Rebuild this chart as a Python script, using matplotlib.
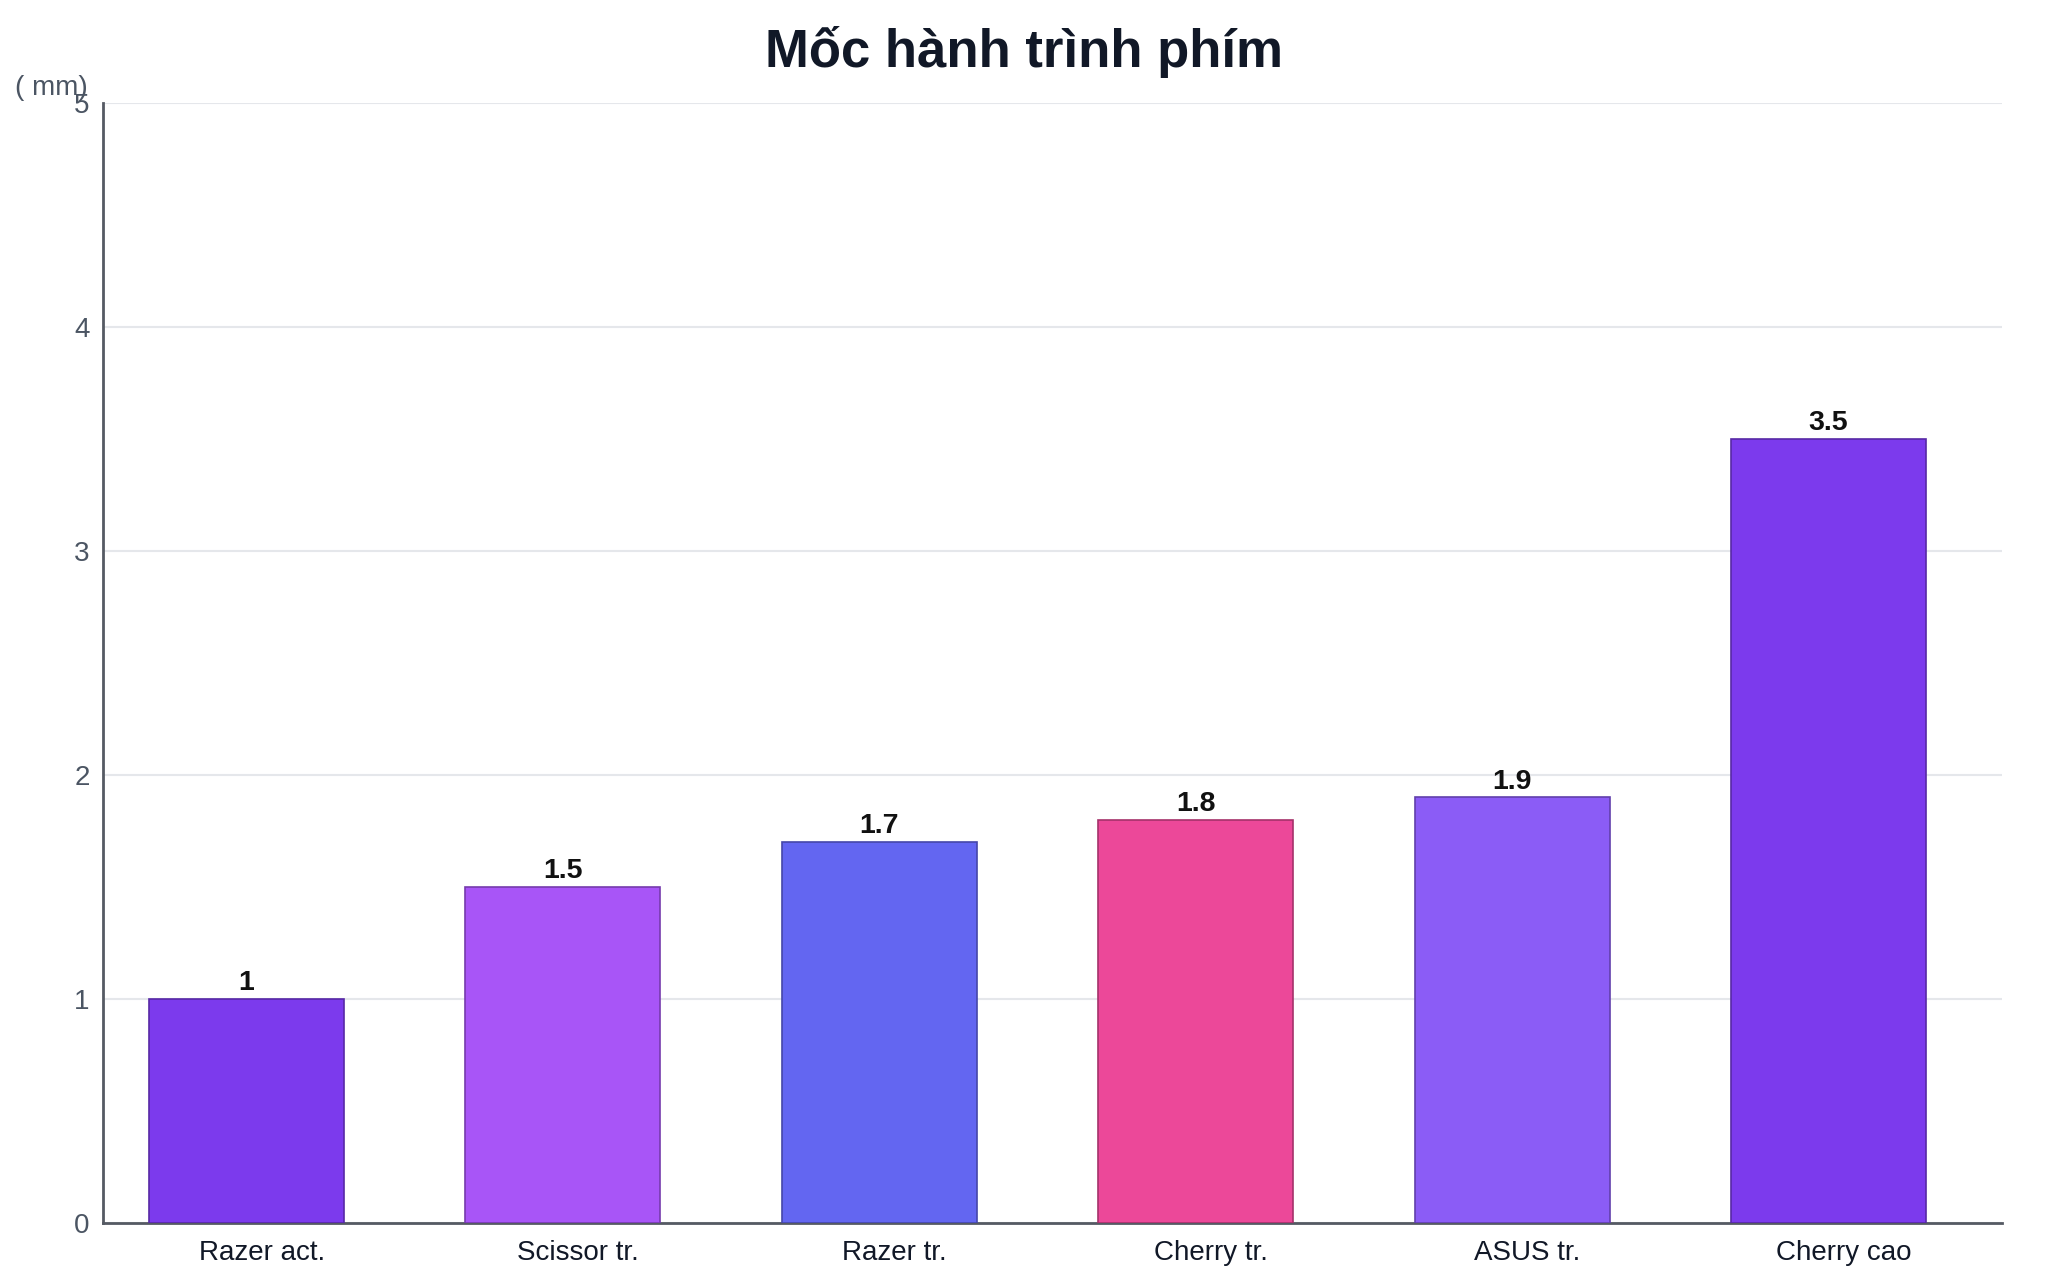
import matplotlib
matplotlib.use("Agg")
import matplotlib.pyplot as plt
import matplotlib.colors as mcolors
import numpy as np

plt.rcParams['font.family'] = ['Liberation Sans', 'DejaVu Sans']

categories = ["Razer act.", "Scissor tr.", "Razer tr.", "Cherry tr.", "ASUS tr.", "Cherry cao"]
values = [1, 1.5, 1.7, 1.8, 1.9, 3.5]
colors = ["#7c3aed", "#a855f7", "#6366f1", "#ec4899", "#8b5cf6", "#7c3aed"]
title = "Mốc hành trình phím"
y_unit = "( mm)"
y_ticks = [0, 1, 2, 3, 4, 5]

def darker(c, f=0.7):
    r, g, b = mcolors.to_rgb(c)
    return (r * f, g * f, b * f)

fig = plt.figure(figsize=(20.48, 12.8), dpi=100)
ax = fig.add_axes([0.0505, 0.0445, 0.927, 0.875])

x = np.arange(len(categories))
bar_x = x - 0.048
bars = ax.bar(bar_x, values, width=0.616, color=colors,
              edgecolor=[darker(c) for c in colors], linewidth=1.2, zorder=3)

for bx, v in zip(bar_x, values):
    ax.annotate(f"{v:g}", (bx, v), xytext=(0, 2), textcoords="offset points",
                ha="center", va="bottom", fontsize=20.5, fontweight="bold",
                color="#111111", zorder=4)

ax.set_xlim(-0.5, len(categories) - 0.5)
ax.set_ylim(0, 5)
ax.set_yticks(y_ticks)
ax.set_yticklabels([str(t) for t in y_ticks])
ax.set_xticks(x)
ax.set_xticklabels(categories)
ax.tick_params(axis='y', length=0, pad=10, labelsize=20, labelcolor="#4b5563")
ax.tick_params(axis='x', length=0, pad=12, labelsize=20, labelcolor="#111827")

ax.grid(axis='y', color="#e5e7eb", linewidth=1.5, zorder=0)
ax.set_axisbelow(True)
for s in ["top", "right"]:
    ax.spines[s].set_visible(False)
for s in ["left", "bottom"]:
    ax.spines[s].set_color("#555a63")
    ax.spines[s].set_linewidth(2)

fig.text(0.5, 0.959, title, ha="center", va="center", fontsize=38,
         fontweight="bold", color="#111827")
fig.text(0.025, 0.931, y_unit, ha="center", va="center", fontsize=20, color="#4b5563")

fig.savefig("out.png", dpi=100, facecolor="white")
